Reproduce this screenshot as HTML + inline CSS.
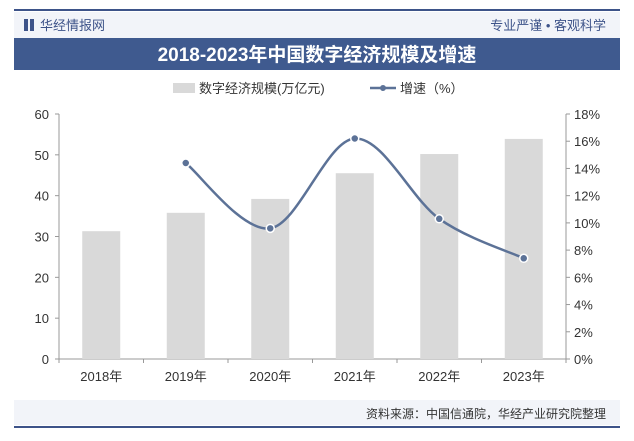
<!DOCTYPE html>
<html><head><meta charset="utf-8"><style>
body{margin:0;width:634px;height:436px;background:#fff;font-family:"Liberation Sans","Noto Sans CJK SC",sans-serif;overflow:hidden}
svg text{font-family:"Liberation Sans","Noto Sans CJK SC",sans-serif}
</style></head><body>
<svg id="c" width="634" height="436">
<line x1="14" y1="10" x2="620" y2="10" stroke="#3d5389" stroke-width="2"/>
<rect x="14" y="12" width="606" height="26" fill="#f2f4f9"/>
<rect x="24" y="19" width="4" height="12" fill="#3d5389"/><rect x="30" y="19" width="4" height="12" fill="#3d5389"/>
<text x="40" y="30" font-size="13" fill="#3d5389">华经情报网</text>
<text x="606" y="30" font-size="13" fill="#3d5389" text-anchor="end">专业严谨 • 客观科学</text>
<rect x="14" y="38" width="606" height="32" fill="#3f5a8f"/>
<text x="317" y="61" font-size="19" font-weight="bold" fill="#fff" text-anchor="middle" font-family="Liberation Serif,Noto Serif CJK SC,serif">2018-2023年中国数字经济规模及增速</text>
<rect x="173" y="83" width="22" height="10" fill="#d9d9d9"/>
<text x="199" y="93" font-size="13" fill="#333">数字经济规模(万亿元)</text>
<line x1="370" y1="88" x2="396" y2="88" stroke="#5c7297" stroke-width="2.5"/><circle cx="383" cy="88" r="3" fill="#5c7297"/>
<text x="400" y="93" font-size="13" fill="#333">增速（%）</text>
<g id="plot"></g>
<rect x="14" y="400" width="606" height="25" fill="#f2f4f9"/>
<text x="606" y="418" font-size="12" fill="#333" text-anchor="end">资料来源：中国信通院，华经产业研究院整理</text>
<line x1="14" y1="427" x2="620" y2="427" stroke="#3d5389" stroke-width="2"/>
</svg>
<script>
const years=["2018年","2019年","2020年","2021年","2022年","2023年"];
const scale=[31.3,35.8,39.2,45.5,50.2,53.9];
const growth=[null,14.4,9.6,16.2,10.3,7.4];
const leftTicks=[0,10,20,30,40,50,60];
const rightTicks=[0,2,4,6,8,10,12,14,16,18];
const L=59,R=566,T=114,B=359,ns="http://www.w3.org/2000/svg";
const g=document.getElementById('plot');
const bw=(R-L)/years.length;
const xc=i=>L+bw*(i+0.5);
const yl=v=>B-(v/60)*(B-T);
const yr=v=>B-(v/18)*(B-T);
function mk(t,a,txt){const e=document.createElementNS(ns,t);for(const k in a)e.setAttribute(k,a[k]);if(txt!=null)e.textContent=txt;g.appendChild(e);return e;}
let e=mk('line',{x1:L,y1:T,x2:L,y2:B,stroke:'#999'});

e=mk('line',{x1:R,y1:T,x2:R,y2:B,stroke:'#999'});

e=mk('line',{x1:L,y1:B,x2:R,y2:B,stroke:'#999'});

leftTicks.forEach(v=>{mk('line',{x1:L-4,y1:yl(v),x2:L,y2:yl(v),stroke:'#999'});
 e=mk('text',{x:L-10,y:yl(v)+5,'font-size':13,fill:'#333','text-anchor':'end'},v);
 });
rightTicks.forEach(v=>{mk('line',{x1:R,y1:yr(v),x2:R+4,y2:yr(v),stroke:'#999'});
 e=mk('text',{x:R+8,y:yr(v)+5,'font-size':13,fill:'#333'},v+'%');
 });
for(let i=0;i<=years.length;i++)mk('line',{x1:L+bw*i,y1:B,x2:L+bw*i,y2:B+4,stroke:'#999'});
years.forEach((y,i)=>{
 e=mk('rect',{x:xc(i)-19,y:yl(scale[i]),width:38,height:B-yl(scale[i]),fill:'#d9d9d9'});
 
 e=mk('text',{x:xc(i),y:B+22,'font-size':13,fill:'#333','text-anchor':'middle'},y);
 
});
const pts=[];growth.forEach((v,i)=>{if(v!=null)pts.push([xc(i),yr(v)]);});
let d='M'+pts[0][0]+','+pts[0][1];
for(let i=0;i<pts.length-1;i++){const p0=pts[i-1]||pts[i],p1=pts[i],p2=pts[i+1],p3=pts[i+2]||p2;
 d+=` C${p1[0]+(p2[0]-p0[0])/6},${p1[1]+(p2[1]-p0[1])/6} ${p2[0]-(p3[0]-p1[0])/6},${p2[1]-(p3[1]-p1[1])/6} ${p2[0]},${p2[1]}`;}
e=mk('path',{d:d,fill:'none',stroke:'#5c7297','stroke-width':2.5});

pts.forEach(p=>{e=mk('circle',{cx:p[0],cy:p[1],r:4,fill:'#5c7297',stroke:'#fff','stroke-width':1.5});
 });
</script>
</body></html>
